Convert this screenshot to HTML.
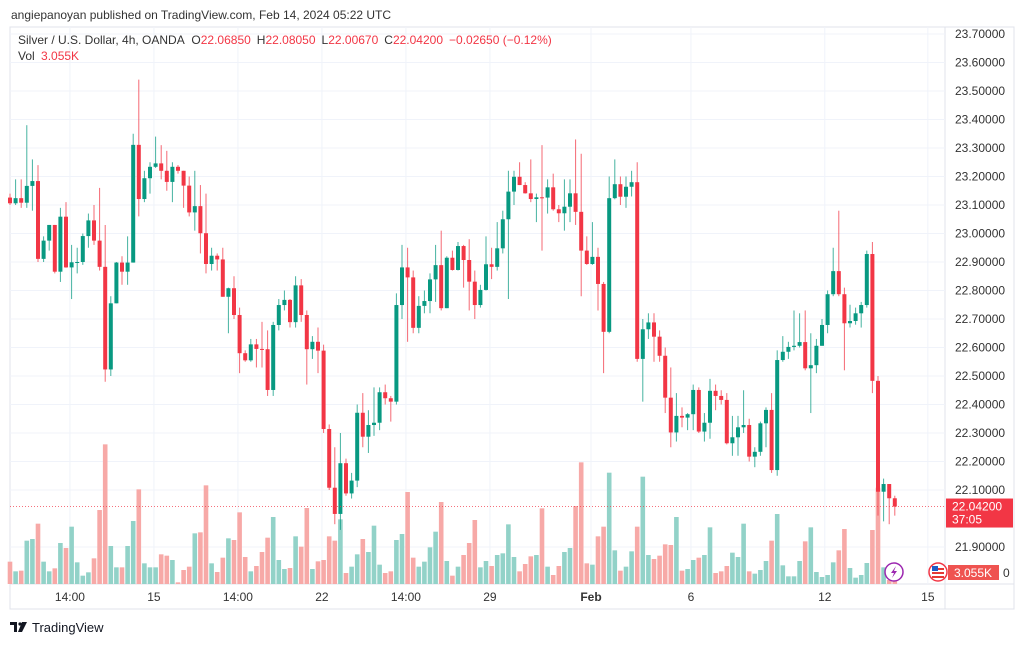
<!DOCTYPE html>
<html><head><meta charset="utf-8">
<style>
html,body{margin:0;padding:0;background:#fff;}
body{width:1024px;height:643px;position:relative;overflow:hidden;font-family:"Liberation Sans",sans-serif;}
svg text{font-family:"Liberation Sans",sans-serif;}
</style></head>
<body>
<svg id="chart" width="1024" height="643" viewBox="0 0 1024 643" xmlns="http://www.w3.org/2000/svg">
  <text x="11" y="19" font-size="12" fill="#333">angiepanoyan published on TradingView.com, Feb 14, 2024 05:22 UTC</text>
  <rect x="10" y="27" width="1004" height="582" fill="none" stroke="#e0e3eb" stroke-width="1"/>
  <line x1="945" y1="27" x2="945" y2="609" stroke="#e0e3eb"/>
  <line x1="10" y1="584" x2="1014" y2="584" stroke="#e0e3eb"/>
  <g id="grid"></g>
  <g id="vols"></g>
  <g id="candles"></g>
  <g id="yaxis"></g>
  <g id="xaxis"></g>
  <line id="lastline" x1="10" x2="945" stroke="#f23645" stroke-width="1" stroke-dasharray="1,2" opacity="0.7"/>
  <g>
    <text x="18" y="44" font-size="12" fill="#333">Silver / U.S. Dollar, 4h, OANDA <tspan dx="4">O</tspan><tspan fill="#f23645">22.06850</tspan><tspan dx="6">H</tspan><tspan fill="#f23645">22.08050</tspan><tspan dx="6">L</tspan><tspan fill="#f23645">22.00670</tspan><tspan dx="6">C</tspan><tspan fill="#f23645">22.04200</tspan><tspan dx="6" fill="#f23645">−0.02650 (−0.12%)</tspan></text>
    <text x="18" y="60" font-size="12" fill="#333">Vol <tspan dx="3" fill="#f23645">3.055K</tspan></text>
  </g>
  <g>
    <rect id="lastbox" x="946" width="67" height="29" fill="#f23645"/>
    <text id="lasttxt" x="952" font-size="12" fill="#fff">22.04200</text>
    <text id="lastcd" x="952" font-size="12" fill="#fff">37:05</text>
  </g>
  <g>
    <rect x="948" y="565" width="51" height="15" fill="#ef5350"/>
    <text x="954" y="577" font-size="12" fill="#fff">3.055K</text>
    <text x="1003" y="577" font-size="12" fill="#333">0</text>
  </g>
  <g>
    <circle cx="894" cy="572" r="9" fill="#fff" stroke="#9c27b0" stroke-width="1.5"/>
    <path d="M896 566 L891 573 L894 573 L892 578 L897 571 L894 571 Z" fill="#9c27b0"/>
  </g>
  <g>
    <circle cx="938" cy="572" r="9" fill="#fff" stroke="#f23645" stroke-width="1.5"/>
    <rect x="932" y="568" width="12" height="2" fill="#e53935"/>
    <rect x="932" y="572" width="12" height="2" fill="#e53935"/>
    <rect x="932" y="576" width="12" height="2" fill="#e53935"/>
    <rect x="932" y="566" width="6" height="5" fill="#1e5bc6"/>
  </g>
  <g>
    <path d="M10 622 h7 v10 h-3 v-7 h-4 z" fill="#131722"/>
    <circle cx="20" cy="624" r="1.6" fill="#131722"/>
    <path d="M22 622 h5 l-5 10 h-4 z" fill="#131722"/>
    <text x="32" y="632" font-size="13" fill="#131722">TradingView</text>
  </g>
</svg>
<script>
const closes=[23.106,23.124,23.108,23.167,23.184,22.911,22.975,23.030,22.866,23.059,22.881,22.899,22.900,22.991,23.046,22.975,22.883,22.523,22.755,22.898,22.866,22.898,23.311,23.121,23.194,23.234,23.246,23.220,23.181,23.234,23.220,23.168,23.074,23.096,23.001,22.893,22.922,22.909,22.778,22.808,22.714,22.580,22.555,22.611,22.595,22.594,22.451,22.679,22.749,22.767,22.689,22.818,22.714,22.594,22.620,22.589,22.314,22.108,22.016,22.194,22.088,22.133,22.371,22.287,22.328,22.336,22.443,22.422,22.410,22.749,22.881,22.846,22.669,22.746,22.763,22.839,22.889,22.738,22.915,22.872,22.956,22.907,22.831,22.749,22.802,22.892,22.883,22.948,23.050,23.147,23.199,23.170,23.141,23.121,23.127,23.126,23.162,23.085,23.071,23.094,23.141,23.076,22.940,22.893,22.918,22.823,22.655,23.124,23.173,23.129,23.164,23.180,22.560,22.664,22.688,22.638,22.571,22.424,22.302,22.360,22.354,22.366,22.451,22.305,22.336,22.448,22.430,22.416,22.264,22.285,22.320,22.328,22.217,22.234,22.334,22.381,22.170,22.556,22.585,22.602,22.606,22.619,22.527,22.538,22.606,22.679,22.787,22.868,22.787,22.685,22.693,22.720,22.749,22.928,22.483,22.094,22.121,22.071,22.042];
const firstOpen=23.126;
const highs=[23.14,23.19,23.19,23.38,23.26,23.24,22.99,23.03,23.03,23.09,23.11,22.96,22.95,23.00,23.07,23.10,23.16,23.03,22.78,22.90,22.92,22.99,23.35,23.54,23.22,23.25,23.34,23.31,23.29,23.25,23.24,23.22,23.20,23.22,23.17,23.14,22.95,22.93,22.95,22.81,22.85,22.74,22.59,22.63,22.63,22.69,22.66,22.69,22.77,22.80,22.77,22.85,22.84,22.73,22.64,22.67,22.61,22.33,22.25,22.30,22.21,22.16,22.40,22.44,22.38,22.46,22.46,22.47,22.43,22.79,22.96,22.95,22.87,22.78,22.80,22.86,22.96,23.01,22.92,22.94,22.97,22.96,22.98,22.87,22.82,22.99,22.95,23.04,23.08,23.22,23.22,23.25,23.18,23.26,23.14,23.31,23.19,23.21,23.10,23.19,23.19,23.33,23.28,22.99,23.04,22.95,22.83,23.20,23.26,23.20,23.20,23.22,23.25,22.70,22.72,22.72,22.66,22.60,22.53,22.44,22.39,22.37,22.47,22.46,22.37,22.49,22.47,22.45,22.44,22.36,22.36,22.45,22.35,22.25,22.34,22.39,22.44,22.59,22.64,22.62,22.73,22.72,22.73,22.65,22.63,22.70,22.80,22.95,23.08,22.81,22.75,22.74,22.76,22.94,22.97,22.50,22.14,22.12,22.08];
const lows=[23.10,23.10,23.09,23.09,23.08,22.90,22.90,22.94,22.86,22.83,22.88,22.77,22.86,22.89,22.95,22.96,22.87,22.48,22.50,22.77,22.82,22.82,22.90,23.06,23.11,23.14,23.23,23.19,23.15,23.11,23.21,23.09,23.06,23.01,22.93,22.86,22.87,22.87,22.78,22.65,22.70,22.51,22.55,22.55,22.53,22.53,22.43,22.43,22.66,22.73,22.67,22.67,22.69,22.47,22.56,22.51,22.30,22.10,21.98,21.96,22.08,22.07,22.11,22.25,22.23,22.29,22.31,22.40,22.34,22.40,22.70,22.62,22.65,22.65,22.72,22.72,22.76,22.73,22.74,22.87,22.87,22.81,22.73,22.70,22.74,22.80,22.84,22.87,22.93,22.77,23.10,23.17,23.14,23.11,23.04,22.94,23.07,23.08,23.04,23.01,23.04,23.03,22.78,22.89,22.89,22.73,22.51,22.65,23.12,23.10,23.09,23.13,22.55,22.41,22.63,22.55,22.55,22.37,22.25,22.27,22.32,22.31,22.31,22.30,22.27,22.28,22.38,22.40,22.26,22.22,22.22,22.30,22.20,22.18,22.22,22.25,22.16,22.15,22.55,22.56,22.59,22.60,22.52,22.37,22.51,22.61,22.65,22.78,22.78,22.52,22.67,22.68,22.67,22.74,22.44,22.01,21.99,21.98,22.01];
const volumes=[6.7,3.8,4.0,13.0,13.5,18.1,6.7,3.8,4.7,12.3,10.8,17.2,6.5,2.5,3.5,7.7,22.2,41.9,11.4,5.0,5.0,11.4,18.9,28.4,6.2,5.0,5.0,8.9,8.5,7.2,0.5,4.2,5.2,15.2,15.5,29.6,6.2,3.6,7.9,13.7,13.2,21.5,8.1,3.8,5.4,9.6,13.9,20.1,7.2,4.5,4.8,14.3,11.2,22.8,4.5,6.8,7.2,14.3,13.0,19.4,3.3,5.2,8.9,13.5,9.6,17.5,5.8,3.3,3.8,13.2,15.0,27.6,7.9,5.2,6.7,11.0,15.7,24.6,6.9,2.5,5.2,8.7,12.3,19.2,5.0,6.9,5.4,8.7,9.2,17.9,8.1,3.8,6.0,8.3,8.7,22.7,5.2,2.7,5.4,9.6,10.8,23.4,36.5,6.2,5.8,14.3,17.2,33.4,10.1,4.0,5.2,9.8,17.2,32.2,8.7,7.5,8.5,11.9,11.7,20.1,4.0,4.5,7.2,7.9,8.7,17.0,3.3,3.8,5.4,9.4,8.1,18.1,3.8,3.1,4.2,6.9,13.0,21.0,5.6,2.3,2.3,6.9,12.8,17.0,3.6,2.1,2.7,6.5,10.1,16.5,4.8,1.9,2.7,6.3,16.2,28.9,5.0,1.2,1.0];
const priceTicks=[23.7,23.6,23.5,23.4,23.3,23.2,23.1,23.0,22.9,22.8,22.7,22.6,22.5,22.4,22.3,22.2,22.1,21.9];
const timeLabels=["14:00","15","14:00","22","14:00","29","Feb","6","12","15"];
const timeIdx=[10.7,25.7,40.7,55.7,70.7,85.7,103.75,121.6,145.5,163.9];

const NS="http://www.w3.org/2000/svg";
const PX0=10, STEP=5.6;
const yP=p=>34+(23.70-p)*285;
const xI=i=>PX0+STEP*i;
const VOL_BASE=584, VOL_K=3.333;
const GREEN="#089981", RED="#f23645";
function mk(tag,attrs,parent){const e=document.createElementNS(NS,tag);for(const k in attrs)e.setAttribute(k,attrs[k]);parent.appendChild(e);return e;}

const grid=document.getElementById('grid');
priceTicks.forEach(p=>{mk('line',{x1:10,x2:945,y1:yP(p),y2:yP(p),stroke:'#f0f3fa','stroke-width':1},grid);});
timeIdx.forEach(i=>{mk('line',{x1:xI(i),x2:xI(i),y1:27,y2:584,stroke:'#f0f3fa','stroke-width':1},grid);});

const ya=document.getElementById('yaxis');
priceTicks.forEach(p=>{
  const t=mk('text',{x:955,y:yP(p)+4,'font-size':12,fill:'#333'},ya);
  
  
  t.textContent=p.toFixed(5);
});
const xa=document.getElementById('xaxis');
timeLabels.forEach((s,k)=>{
  const t=mk('text',{x:xI(timeIdx[k]),y:601,'font-size':12,fill:'#333','text-anchor':'middle','font-weight':s==='Feb'?'bold':'normal'},xa);
  
  
  t.textContent=s;
});

const vg=document.getElementById('vols'), cg=document.getElementById('candles');
closes.forEach((c,i)=>{
  const o=i===0?firstOpen:closes[i-1];
  const up=c>=o;
  const x=xI(i);
  const h=volumes[i]*VOL_K;
  const vb=mk('rect',{x:x-2.3,y:VOL_BASE-h,width:4.6,height:h,fill:up?'#92d2c8':'#f7a9a7'},vg);
  
  
  const col=up?GREEN:RED;
  const hi=Math.max(highs[i],o,c), lo=Math.min(lows[i],o,c);
  const w=mk('line',{x1:x,x2:x,y1:yP(hi),y2:yP(lo),stroke:col,'stroke-width':1,opacity:0.75},cg);
  
  
  const top=yP(Math.max(o,c)), bh=Math.max(1,yP(Math.min(o,c))-top);
  const b=mk('rect',{x:x-2,y:top,width:4,height:bh,fill:col},cg);
  
  
});
const last=closes[closes.length-1], ly=yP(last);
const ll=document.getElementById('lastline');ll.setAttribute('y1',ly);ll.setAttribute('y2',ly);
document.getElementById('lastbox').setAttribute('y',ly-8);
document.getElementById('lasttxt').setAttribute('y',ly+4);
document.getElementById('lastcd').setAttribute('y',ly+17);
</script>
</body></html>
